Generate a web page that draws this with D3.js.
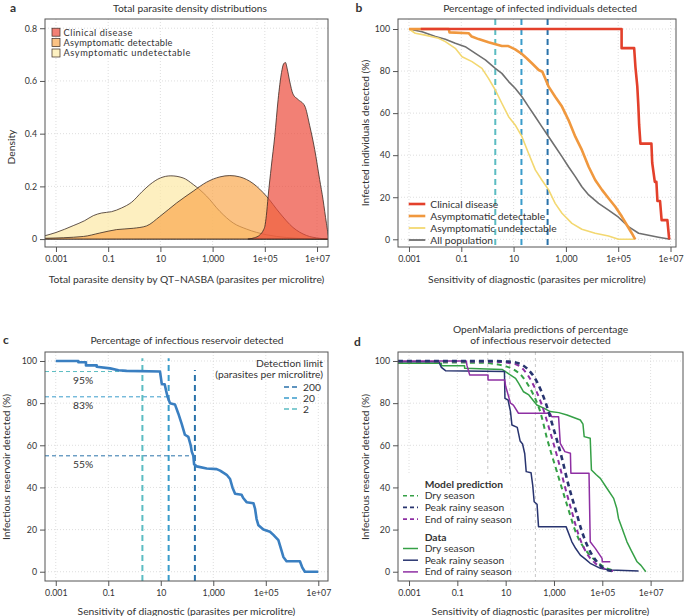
<!DOCTYPE html>
<html><head><meta charset="utf-8">
<script src="https://cdn.jsdelivr.net/npm/d3@7"></script>
<style>
body{margin:0;background:#fff}
svg{display:block}
text{font-family:Lato,"Open Sans",sans-serif;fill:#333}
</style>
</head><body>
<svg id="chart" width="685" height="616"></svg>
<script>
// ---------- shared tick data (x axis is log10 of parasites per microlitre) ----------
const xTickVals = [-3, -1, 1, 3, 5, 7];
const xTickLabels = ["0.001", "0.1", "10", "1,000", "1e+05", "1e+07"];
const aYTicks = [0, 0.2, 0.4, 0.6, 0.8];
const aYTickLabels = ["0", "0.2", "0.4", "0.6", "0.8"];
const pctTicks = [0, 20, 40, 60, 80, 100];

// ---------- panel a: density distributions ----------
const aSeries = ["Clinical disease", "Asymptomatic detectable", "Asymptomatic undetectable"];
const aUndetX = [-3.45,-3.0,-2.34,-1.9,-1.57,-1.25,-0.87,-0.49,-0.1,0.3,0.6,1.0,1.4,1.87,2.26,2.77,3.28,3.79,4.30,5.06,5.83,6.72,7.5];
const aUndetY = [0.012,0.025,0.051,0.07,0.089,0.099,0.104,0.118,0.14,0.18,0.207,0.232,0.24,0.232,0.207,0.163,0.105,0.061,0.038,0.0165,0.006,0.001,0];
const aDetX = [-3.45,-1.95,-1.32,-0.68,-0.04,0.47,0.98,1.62,2.26,2.77,3.28,3.66,4.04,4.55,5.06,5.57,6.08,6.59,7.10,7.45];
const aDetY = [0.003,0.01,0.023,0.036,0.041,0.05,0.086,0.137,0.182,0.216,0.236,0.241,0.236,0.211,0.163,0.099,0.044,0.014,0.003,0];
const aClinX = [4.35,4.6,4.8,4.95,5.0,5.06,5.125,5.25,5.38,5.51,5.64,5.72,5.79,5.86,5.95,6.08,6.27,6.53,6.72,6.91,7.10,7.23,7.36,7.45,7.6];
const aClinY = [0,0.005,0.015,0.035,0.048,0.09,0.16,0.277,0.39,0.53,0.632,0.665,0.67,0.645,0.60,0.55,0.53,0.505,0.43,0.34,0.226,0.15,0.06,0.01,0];

// ---------- panel b: percentage of infected individuals detected ----------
const bSeries = ["Clinical disease", "Asymptomatic detectable", "Asymptomatic undetectable", "All population"];
const bClinX = [-2.55,5.13,5.13,5.61,5.66,5.73,5.77,5.80,5.85,6.27,6.30,6.40,6.46,6.50,6.60,6.66,6.88,6.95];
const bClinY = [100,100,90.9,90.9,81.8,72.7,63.6,54.5,45.5,45.5,36.4,27.3,27.3,18.2,18.2,9.1,9.1,0];
const bDetX = [-3,-1.48,-1.45,-0.72,-0.6,-0.34,0.04,0.55,0.8,1.06,1.32,1.51,1.70,1.96,2.1,2.21,2.34,2.59,2.85,3.10,3.36,3.61,3.87,4.12,4.38,4.63,4.89,5.14,5.33,5.52,5.65];
const bDetY = [100,100,98.4,98,96.4,95.2,93.7,91.9,91.9,90.3,88.1,86,83.7,80.5,79.7,76.5,72.6,67.8,63.1,56.7,48.8,42.5,34.5,28.2,23.5,19.5,15.5,10.8,6.8,2.9,0];
const bUndX = [-3,-2.76,-2.38,-1.87,-1.61,-1.23,-0.97,-0.59,-0.21,0.04,0.30,0.55,0.81,1.06,1.32,1.57,1.83,2.08,2.34,2.59,2.85,3.23,3.61,4.12,4.63,5.01,5.6];
const bUndY = [100,98,97.1,95.6,94,90.8,86.8,84.5,81.3,76.5,71,64.7,58.3,54.4,48.8,40.9,33,28.2,23.5,17.1,12.4,7.6,4.8,2.9,1.6,0,0];
const bAllX = [-3,-2.5,-1.99,-1.61,-1.23,-0.85,-0.46,-0.08,0.30,0.55,0.81,1.06,1.32,1.57,1.83,2.08,2.34,2.59,2.85,3.10,3.36,3.61,3.87,4.25,4.63,5.01,5.39,5.78,6.16,6.54,6.99];
const bAllY = [100,98.7,96.4,95.1,93.2,91.6,88.4,85.3,81.3,78.9,75,71.8,67.8,63.1,58.3,53.6,48.8,44.1,39.3,34.5,29.8,25,21.1,17.1,13.9,10.5,6,2.9,1.9,1,0];

// detection limits (parasites per microlitre, log10)
const limitLabels = ["200", "20", "2"];
const limitLog = [2.30, 1.30, 0.30];

// ---------- panel c: infectious reservoir detected ----------
const cX = [-3,-2.14,-2.14,-1.85,-1.85,-1.44,-1.44,-0.93,-0.61,-0.30,0.97,1.04,1.15,1.20,1.26,1.35,1.54,1.67,1.80,1.92,2.05,2.14,2.18,2.24,2.27,2.37,2.75,3.13,3.26,3.38,3.51,3.64,3.73,3.83,4.08,4.14,4.27,4.53,4.59,4.65,4.72,4.91,5.16,5.29,5.48,5.60,5.67,5.79,6.30,6.39,6.49,7.0];
const cY = [100,100,99.4,99.4,97.9,97.9,97.3,96.5,95.6,95.3,95,89,89,86,83,80,79.4,75,70,65,64,60,57,55,51,50,49,48.7,48,47,46,44,40,37,36.5,35,33,32.5,30,25,22,20,19,17.5,15,10,7,5,5,2,0,0];
const cRefPct = [55, 83, 95];
const cRefLabels = ["55%", "83%", "95%"];
const cVTop = [95.7, 101.3, 101.3];

// ---------- panel d: OpenMalaria predictions ----------
const dSeasons = ["Dry season", "Peak rainy season", "End of rainy season"];
const dModelDryX = [-3.46,0,0.6,1.0,1.32,1.7,2.01,2.23,2.43,2.71,3.12,3.54,3.95,4.36,4.78,5.19,5.5];
const dModelDryY = [99.3,99.2,98.5,97.5,96,92.5,87,82,76,63.3,47.5,31.7,17.4,9.5,4.7,1.6,0.5];
const dModelPeakX = [-3.46,0.5,1.0,1.32,1.88,2.29,2.64,2.98,3.33,3.60,3.88,4.16,4.43,4.78,5.19,5.5];
const dModelPeakY = [100,100,99.8,99.5,96.5,90.2,80.7,68,53.8,41.1,30,19,11.1,4.7,0.8,0.3];
const dModelEndX = [-3.46,0.5,1.0,1.32,1.74,2.15,2.50,2.84,3.19,3.47,3.74,4.02,4.36,4.71,5.05,5.45];
const dModelEndY = [99.8,99.7,99.3,98.8,95.9,88.6,79.1,66.4,52.2,39.6,28.5,17.4,8.7,4,1.6,0.3];
const dDataDryX = [-3.46,-1.66,-1.66,-0.7,-0.7,0.85,0.99,1.19,1.41,1.54,1.74,1.96,2.29,2.6,2.84,3.2,3.54,4.09,4.2,4.25,4.50,4.55,4.75,4.92,5.19,5.47,5.6,5.67,6.02,6.2,6.44,6.6,6.8];
const dDataDryY = [98.9,98.9,97.8,97.8,96.5,96,95,93.4,91.8,89.4,85.4,83.9,79.1,77.5,76,75.5,74.4,72,70,64.1,63.3,48.3,46,44.3,39.6,34.8,30,25.3,14.2,10,4.7,3,0];
const dDataPeakX = [-3.46,-1.77,-1.66,-1.49,0.95,0.97,1.1,1.2,1.26,1.48,1.6,1.7,1.79,1.85,2.05,2.12,2.18,2.3,2.36,3.5,3.74,3.9,4.09,4.3,4.5,4.92,5.33,6.5];
const dDataPeakY = [99.7,99.7,97,95.4,95,82.3,81.5,76,69.6,68.5,62,60.6,56,47.5,47,41,33.2,32,21.4,21.4,14.2,11,7.9,6,4,1.6,0.8,0.4];
const dDataEndX = [-3.46,-0.63,-0.6,-0.49,0.27,0.27,0.96,1.0,1.2,1.32,1.53,2.84,2.91,3.19,3.26,3.45,3.68,3.7,4.45,4.50,4.71,4.99,5.0,5.33];
const dDataEndY = [100,100,97.8,93.4,93.4,91,91,88,80,79.1,75.2,75.2,73.6,73.6,60.9,57,56.2,46.7,46.7,14.2,11.1,6.3,4.7,4.7];
const dGuideLog = [0.26, 1.17, 2.23];

// ---------- drawing ----------
const svg = d3.select("#chart");

// font sizes fitted so that reference strings keep their printed width
function fitSize(str, target, weight){
  const t = svg.append("text").attr("font-size", 10).attr("font-weight", weight || "normal").text(str);
  const w = t.node().getComputedTextLength();
  t.remove();
  return Math.min(13, Math.max(8, 10 * target / w));
}
const TITLE = fitSize("Total parasite density distributions", 154);
const AXIS = fitSize("Sensitivity of diagnostic (parasites per microlitre)", 218);
const LEG = fitSize("Asymptomatic undetectable", 126.5);
const TICK = fitSize("1e+05", 25);

let clipId = 0;
function zip(xs, ys){ return xs.map((v,i)=>[v, ys[i]]); }

function panel(o){
  const g = svg.append("g");
  const x = d3.scaleLinear().domain(o.xd).range([o.x0, o.x1]);
  const y = d3.scaleLinear().domain(o.yd).range([o.y1, o.y0]);
  const grid = g.append("g").attr("stroke", "#d6d6d6").attr("stroke-width", 0.8).attr("stroke-dasharray", "1,2");
  grid.selectAll("line.gx").data(xTickVals).join("line")
    .attr("x1", d=>x(d)).attr("x2", d=>x(d)).attr("y1", o.y0).attr("y2", o.y1);
  grid.selectAll("line.gy").data(o.yTicks).join("line")
    .attr("y1", d=>y(d)).attr("y2", d=>y(d)).attr("x1", o.x0).attr("x2", o.x1);
  const ax = g.append("g").attr("transform", `translate(0,${o.y1})`)
    .call(d3.axisBottom(x).tickValues(xTickVals).tickFormat((d,i)=>xTickLabels[i]).tickSize(5).tickPadding(3.5));
  const ay = g.append("g").attr("transform", `translate(${o.x0},0)`)
    .call(d3.axisLeft(y).tickValues(o.yTicks).tickFormat((d,i)=>o.yLabels[i]).tickSize(5).tickPadding(3));
  [ax, ay].forEach(a=>{
    a.select(".domain").remove();
    a.selectAll("line").attr("stroke", "#555");
    a.selectAll("text").attr("font-family", "Lato").attr("font-size", TICK).attr("fill", "#333");
  });
  const id = "clip" + (clipId++);
  g.append("clipPath").attr("id", id).append("rect")
    .attr("x", o.x0).attr("y", o.y0).attr("width", o.x1 - o.x0).attr("height", o.y1 - o.y0);
  const plot = g.append("g").attr("clip-path", `url(#${id})`);
  return {g, x, y, plot, o};
}

function finish(p, t){
  const o = p.o;
  p.g.append("rect").attr("x", o.x0).attr("y", o.y0).attr("width", o.x1 - o.x0).attr("height", o.y1 - o.y0)
    .attr("fill", "none").attr("stroke", "#555").attr("stroke-width", 1);
  t.title.forEach((s,i)=>{
    p.g.append("text").attr("x", t.tx).attr("y", t.ty + i*10.5).attr("text-anchor", "middle")
      .attr("font-size", TITLE).text(s);
  });
  p.g.append("text").attr("x", t.lx).attr("y", t.ly).attr("font-weight", "bold").attr("font-size", 12)
    .attr("fill", "#222").text(t.letter);
  p.g.append("text").attr("x", (o.x0+o.x1)/2).attr("y", t.xly).attr("text-anchor", "middle")
    .attr("font-size", AXIS).text(t.xlab);
  p.g.append("text").attr("transform", `translate(${t.ylx},${t.yly}) rotate(-90)`).attr("text-anchor", "middle")
    .attr("font-size", AXIS).text(t.ylab);
}

// ===== Panel a =====
{
  const p = panel({x0:45, x1:328, y0:19, y1:247, xd:[-3.42,7.42], yd:[-0.03,0.835], yTicks:aYTicks, yLabels:aYTickLabels});
  const area = d3.area().x(d=>p.x(d[0])).y0(p.y(0)).y1(d=>p.y(d[1])).curve(d3.curveMonotoneX);
  const fills = [
    {pts: zip(aUndetX, aUndetY), fill: "#fce9a8", op: 0.72},
    {pts: zip(aDetX, aDetY), fill: "#f9a84f", op: 0.7},
    {pts: zip(aClinX, aClinY), fill: "#ec4a3a", op: 0.7}
  ];
  fills.forEach(f=>{
    p.plot.append("path").datum(f.pts).attr("d", area).attr("fill", f.fill).attr("fill-opacity", f.op)
      .attr("stroke", "#3a2a22").attr("stroke-width", 0.8);
  });
  const lg = ["#f28075", "#fbc284", "#fdf1c2"];
  const aLeg = LEG * 0.9;
  aSeries.forEach((s,i)=>{
    const yy = 32.2 + i*10.4;
    p.g.append("rect").attr("x", 52).attr("y", yy-4).attr("width", 8).attr("height", 8)
      .attr("fill", lg[i]).attr("stroke", "#3a2a22").attr("stroke-width", 0.7);
    p.g.append("text").attr("x", 63.5).attr("y", yy+3.3).attr("font-size", aLeg)
      .attr("textLength", [69, 109, 127][i]).attr("lengthAdjust", "spacing").text(s);
  });
  finish(p, {title:["Total parasite density distributions"], tx:190, ty:11.5, letter:"a", lx:10, ly:12,
    xlab:"Total parasite density by QT\u2013NASBA (parasites per microlitre)", xly:283,
    ylab:"Density", ylx:14.5, yly:147});
}

// ===== Panel b =====
const limitColors = ["#2a72aa", "#3a9ccb", "#5bbcc2"];
{
  const p = panel({x0:398, x1:676, y0:19, y1:247, xd:[-3.42,7.21], yd:[-3.66,104.76], yTicks:pctTicks, yLabels:pctTicks.map(String)});
  limitLog.forEach((v,i)=>{
    p.plot.append("line").attr("x1", p.x(v)).attr("x2", p.x(v)).attr("y1", 19).attr("y2", 247)
      .attr("stroke", limitColors[i]).attr("stroke-width", 2).attr("stroke-dasharray", "6,4");
  });
  const line = d3.line().x(d=>p.x(d[0])).y(d=>p.y(d[1]));
  const series = [
    {pts: zip(bAllX, bAllY), c:"#6f6f6f", w:1.6},
    {pts: zip(bUndX, bUndY), c:"#f3d871", w:1.6},
    {pts: zip(bDetX, bDetY), c:"#f0983e", w:2.6},
    {pts: zip(bClinX, bClinY), c:"#e3402b", w:2.6}
  ];
  series.forEach(s=>{
    p.plot.append("path").datum(s.pts).attr("d", line).attr("fill", "none")
      .attr("stroke", s.c).attr("stroke-width", s.w).attr("stroke-linejoin", "round");
  });
  const legC = ["#e3402b", "#f0983e", "#f3d871", "#6f6f6f"];
  const legW = [2.6, 2.6, 1.8, 1.8];
  bSeries.forEach((s,i)=>{
    const yy = 204 + i*12;
    p.g.append("line").attr("x1", 408.7).attr("x2", 425.3).attr("y1", yy).attr("y2", yy)
      .attr("stroke", legC[i]).attr("stroke-width", legW[i]);
    p.g.append("text").attr("x", 430.3).attr("y", yy+3.5).attr("font-size", LEG).text(s);
  });
  finish(p, {title:["Percentage of infected individuals detected"], tx:540, ty:11.5, letter:"b", lx:355.5, ly:12,
    xlab:"Sensitivity of diagnostic (parasites per microlitre)", xly:283,
    ylab:"Infected individuals detected (%)", ylx:369, yly:133});
}

// ===== Panel c =====
{
  const p = panel({x0:45, x1:328, y0:352, y1:581, xd:[-3.41,7.37], yd:[-4.4,104.27], yTicks:pctTicks, yLabels:pctTicks.map(String)});
  const line = d3.line().x(d=>p.x(d[0])).y(d=>p.y(d[1]));
  cRefPct.forEach((v,i)=>{
    p.plot.append("line").attr("x1", 45).attr("x2", p.x(limitLog[i])).attr("y1", p.y(v)).attr("y2", p.y(v))
      .attr("stroke", limitColors[i]).attr("stroke-width", 1).attr("stroke-dasharray", "4,3");
    p.g.append("text").attr("x", 73).attr("y", p.y(v) + 12).attr("font-size", LEG).text(cRefLabels[i]);
  });
  limitLog.forEach((v,i)=>{
    p.plot.append("line").attr("x1", p.x(v)).attr("x2", p.x(v)).attr("y1", 581).attr("y2", p.y(cVTop[i]))
      .attr("stroke", limitColors[i]).attr("stroke-width", 2).attr("stroke-dasharray", "6,4");
  });
  p.plot.append("path").datum(zip(cX, cY)).attr("d", line).attr("fill", "none")
    .attr("stroke", "#3a7fc1").attr("stroke-width", 2.6).attr("stroke-linejoin", "round");
  p.g.append("text").attr("x", 323).attr("y", 367).attr("text-anchor", "end").attr("font-size", LEG).text("Detection limit");
  p.g.append("text").attr("x", 323).attr("y", 377.5).attr("text-anchor", "end").attr("font-size", LEG).text("(parasites per microlitre)");
  limitLabels.forEach((s,i)=>{
    const yy = 387 + i*11;
    p.g.append("line").attr("x1", 284).attr("x2", 300).attr("y1", yy).attr("y2", yy)
      .attr("stroke", limitColors[i]).attr("stroke-width", 1.6).attr("stroke-dasharray", "5,3");
    p.g.append("text").attr("x", 303).attr("y", yy+3.5).attr("font-size", LEG).text(s);
  });
  finish(p, {title:["Percentage of infectious reservoir detected"], tx:187, ty:344, letter:"c", lx:3, ly:344,
    xlab:"Sensitivity of diagnostic (parasites per microlitre)", xly:615,
    ylab:"Infectious reservoir detected (%)", ylx:10, yly:467});
}

// ===== Panel d =====
{
  const p = panel({x0:398, x1:683, y0:352, y1:581, xd:[-3.456,8.34], yd:[-4.4,104.27], yTicks:pctTicks, yLabels:pctTicks.map(String)});
  dGuideLog.forEach(v=>{
    p.plot.append("line").attr("x1", p.x(v)).attr("x2", p.x(v)).attr("y1", 352).attr("y2", 581)
      .attr("stroke", "#b8b8b8").attr("stroke-width", 0.8).attr("stroke-dasharray", "3,3");
  });
  const line = d3.line().x(d=>p.x(d[0])).y(d=>p.y(d[1]));
  const cols = ["#35a046", "#28346f", "#8e2fa3"];
  const data = [zip(dDataDryX, dDataDryY), zip(dDataPeakX, dDataPeakY), zip(dDataEndX, dDataEndY)];
  const model = [zip(dModelDryX, dModelDryY), zip(dModelPeakX, dModelPeakY), zip(dModelEndX, dModelEndY)];
  p.g.append("rect").attr("x", 399).attr("y", 474).attr("width", 111).attr("height", 106).attr("fill", "#fff");
  data.forEach((pts,i)=>{
    p.plot.append("path").datum(pts).attr("d", line).attr("fill", "none")
      .attr("stroke", cols[i]).attr("stroke-width", 1.5).attr("stroke-linejoin", "round");
  });
  const mw = [2, 2.6, 2];
  const smooth = d3.line().x(d=>p.x(d[0])).y(d=>p.y(d[1])).curve(d3.curveMonotoneX);
  [0,2,1].forEach(i=>{
    p.plot.append("path").datum(model[i]).attr("d", smooth).attr("fill", "none")
      .attr("stroke", cols[i]).attr("stroke-width", mw[i]).attr("stroke-dasharray", "5,4");
  });
  p.g.append("text").attr("x", 424.7).attr("y", 488).attr("font-size", LEG).attr("font-weight", "bold").text("Model prediction");
  dSeasons.forEach((s,i)=>{
    const yy = 495.7 + i*11.7;
    p.g.append("line").attr("x1", 403).attr("x2", 418).attr("y1", yy).attr("y2", yy)
      .attr("stroke", cols[i]).attr("stroke-width", 1.6).attr("stroke-dasharray", "4,3");
    p.g.append("text").attr("x", 424.7).attr("y", yy+3.5).attr("font-size", LEG).text(s);
  });
  p.g.append("text").attr("x", 424.7).attr("y", 541).attr("font-size", LEG).attr("font-weight", "bold").text("Data");
  dSeasons.forEach((s,i)=>{
    const yy = 548.5 + i*11.7;
    p.g.append("line").attr("x1", 403).attr("x2", 418).attr("y1", yy).attr("y2", yy)
      .attr("stroke", cols[i]).attr("stroke-width", 1.5);
    p.g.append("text").attr("x", 424.7).attr("y", yy+3.5).attr("font-size", LEG).text(s);
  });
  finish(p, {title:["OpenMalaria predictions of percentage", "of infectious reservoir detected"], tx:540.5, ty:333, letter:"d", lx:354, ly:346,
    xlab:"Sensitivity of diagnostic (parasites per microlitre)", xly:615,
    ylab:"Infectious reservoir detected (%)", ylx:369, yly:467});
}
</script>
</body></html>
